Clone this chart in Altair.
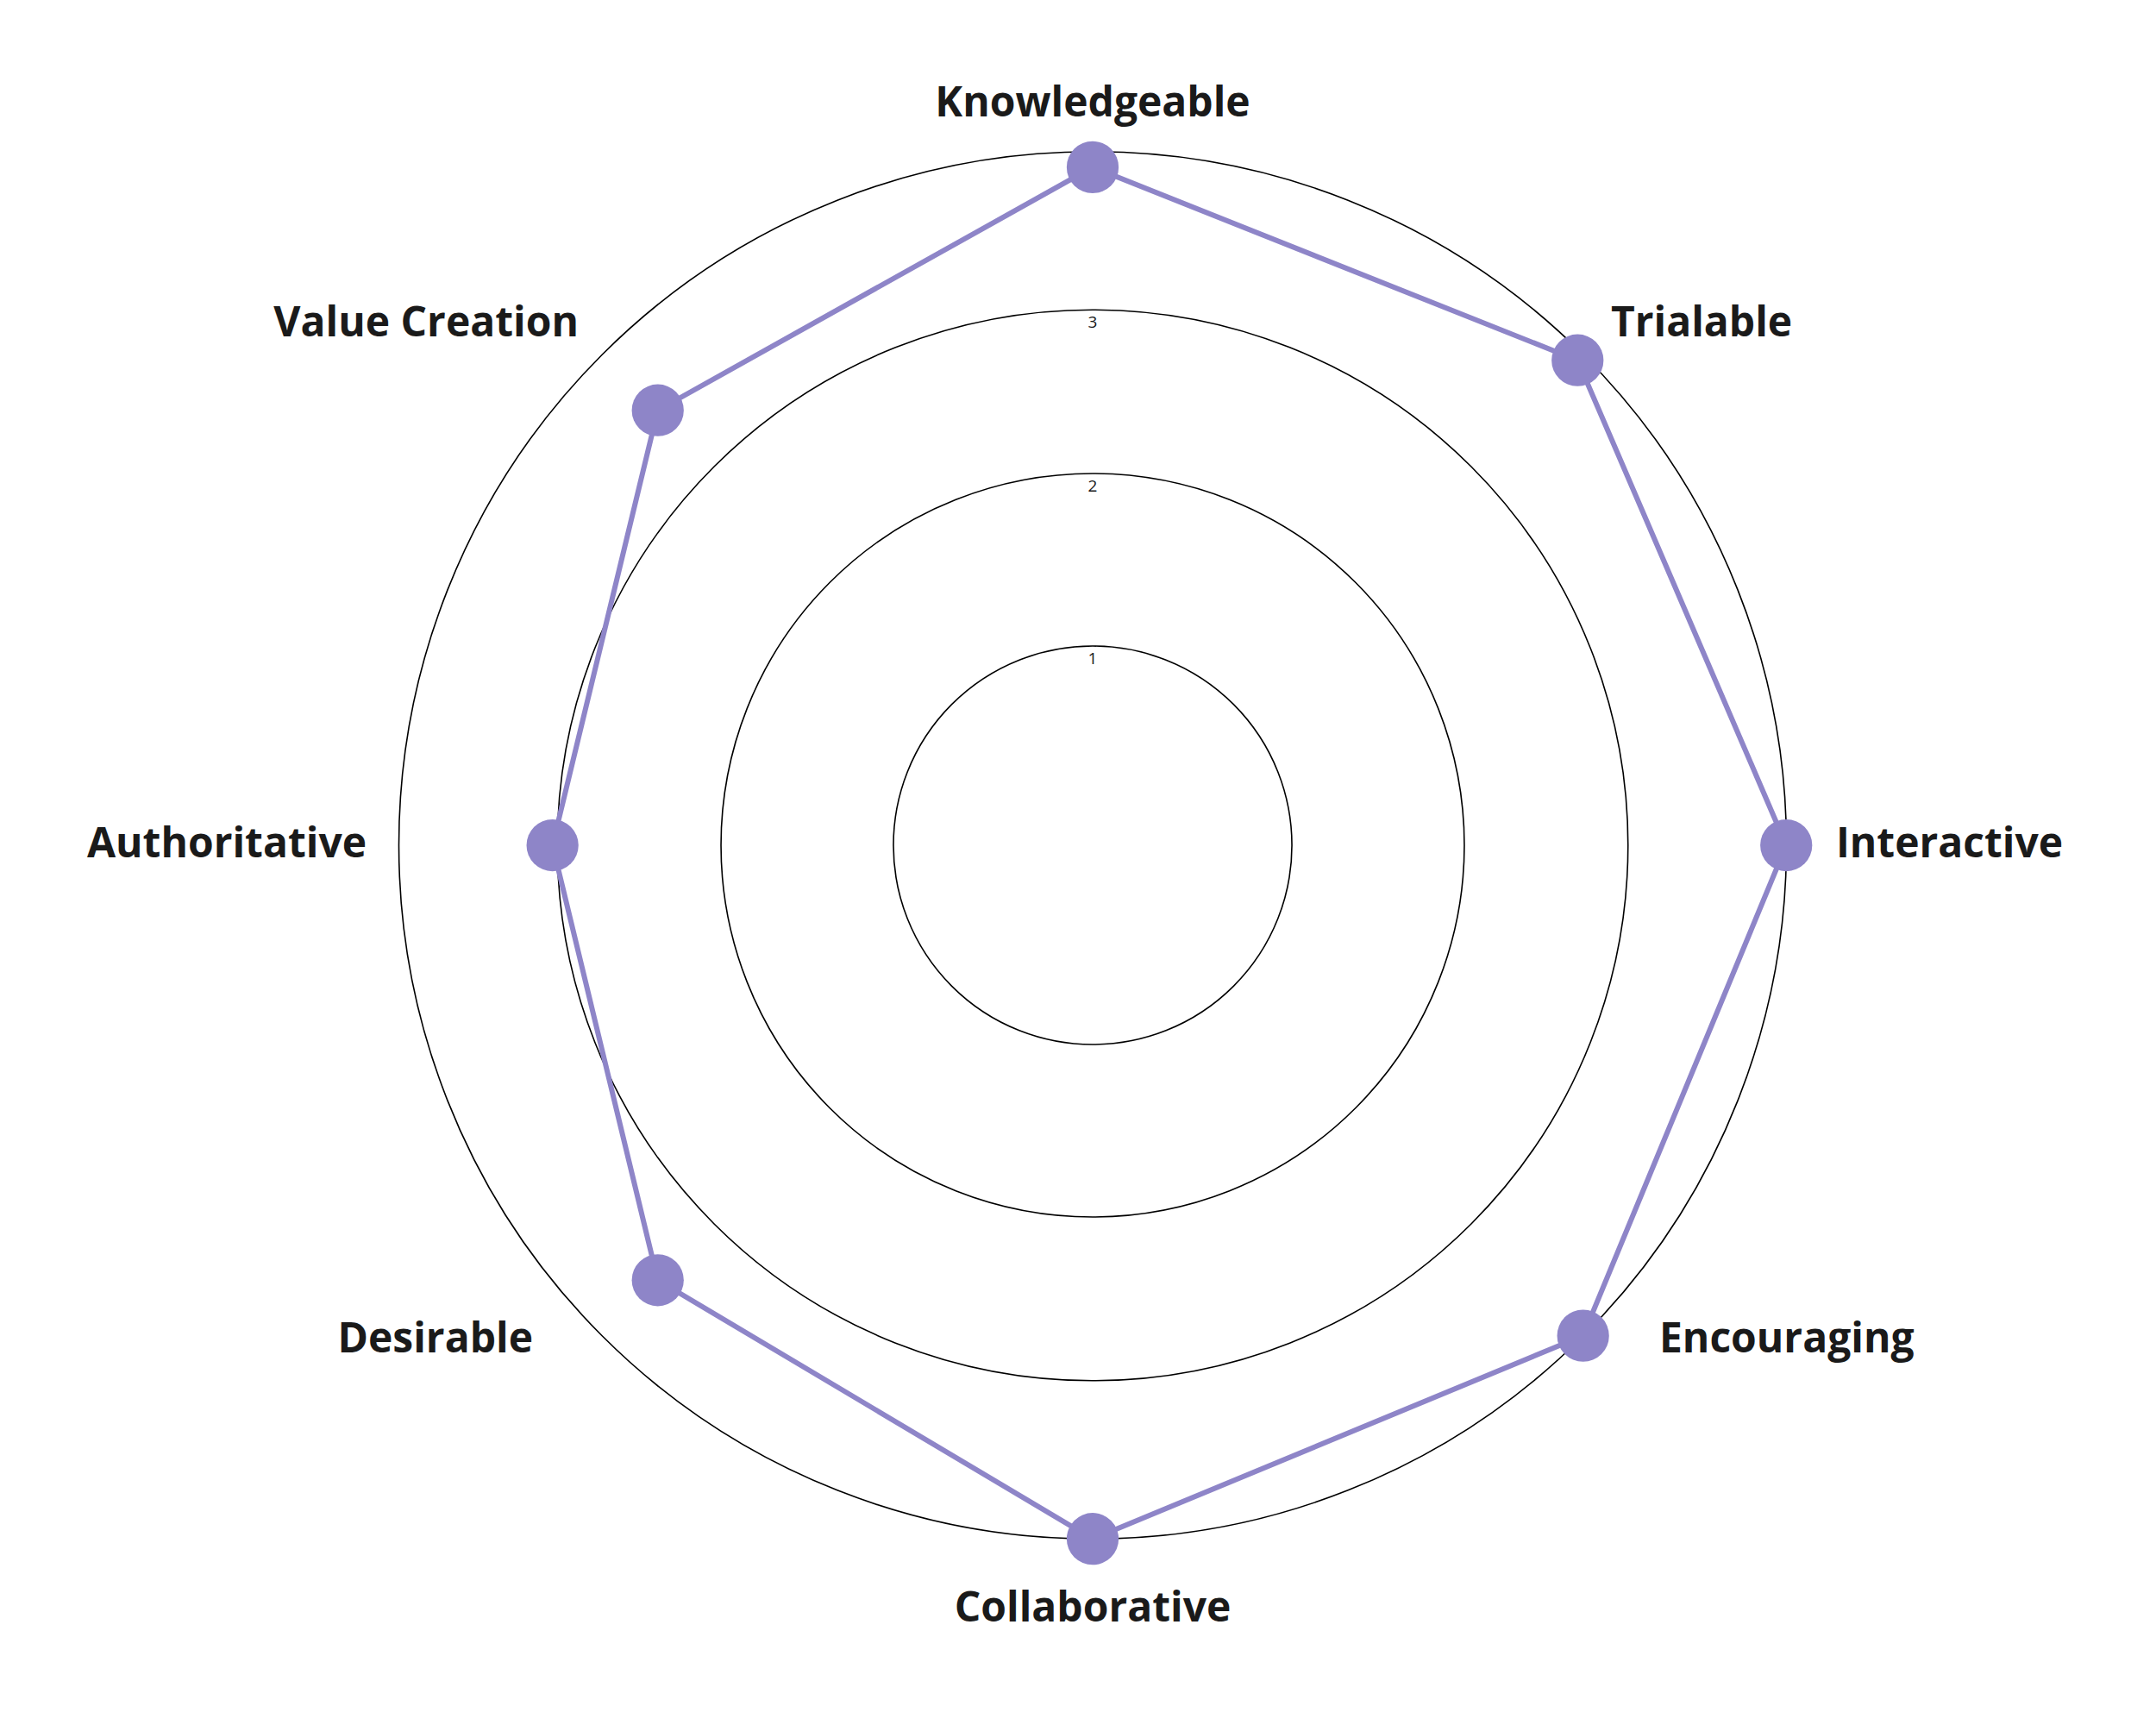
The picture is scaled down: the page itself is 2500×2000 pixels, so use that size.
import math
import altair as alt
import pandas as pd

# ---- data ----
categories = ["Knowledgeable", "Trialable", "Interactive", "Encouraging",
              "Collaborative", "Desirable", "Authoritative", "Value Creation"]
values = [3.9, 3.95, 4.0, 4.0, 4.0, 3.5, 3.03, 3.5]
ring_values = [1, 2, 3, 4]
ring_labels = ["1", "2", "3", ""]
label_groups = ["top", "topright", "right", "lowright", "bottom", "lowleft", "left", "topleft"]

# ---- styling / geometry ----
PURPLE = "#8e85c8"
INK = "#1a1a1a"
EXP = 0.9          # radial scale exponent
L = 4.2            # half-extent of the x/y domain (in scaled radial units)
W = 1940           # plot area size (square)
C = W / 2
LABEL_R = 3.68     # label radius (scaled radial units)

pts = pd.DataFrame({"category": categories, "value": values,
                    "idx": list(range(len(categories))), "grp": label_groups})
rings = pd.DataFrame({"ring": ring_values, "label": ring_labels})

xs = alt.Scale(domain=[-L, L], range=[0, W], nice=False, zero=False)
ys = alt.Scale(domain=[-L, L], range=[W, 0], nice=False, zero=False)

base = alt.Chart(pts).transform_calculate(
    ang=f"datum.idx * 2 * PI / {len(categories)}",
    rr=f"pow(datum.value, {EXP})",
    px="datum.rr * sin(datum.ang)",
    py="datum.rr * cos(datum.ang)",
    lx=f"{LABEL_R} * sin(datum.ang)",
    ly=f"{LABEL_R} * cos(datum.ang)",
)

ring_layer = alt.Chart(rings).transform_calculate(
    rr=f"pow(datum.ring, {EXP})"
).mark_arc(
    theta=0, theta2=2 * math.pi, fillOpacity=0, stroke="#000000", strokeWidth=1.6
).encode(
    radius=alt.Radius("rr:Q", stack=None,
                      scale=alt.Scale(type="linear", domain=[0, L], range=[0, C], zero=True))
)

ring_text = alt.Chart(rings).transform_filter("datum.label != ''").transform_calculate(
    rr=f"pow(datum.ring, {EXP})", zx="0"
).mark_text(
    dy=15, fontSize=19, font="Open Sans", color=INK, baseline="middle", align="center"
).encode(
    x=alt.X("zx:Q", scale=xs, axis=None),
    y=alt.Y("rr:Q", scale=ys, axis=None),
    text="label:N",
)

line = base.mark_line(
    interpolate="linear-closed", color=PURPLE, strokeWidth=6
).encode(
    x=alt.X("px:Q", scale=xs, axis=None),
    y=alt.Y("py:Q", scale=ys, axis=None),
    order=alt.Order("idx:Q"),
)

points = base.mark_circle(size=3630, color=PURPLE, opacity=1).encode(
    x=alt.X("px:Q", scale=xs, axis=None),
    y=alt.Y("py:Q", scale=ys, axis=None),
)

label_cfg = [
    ("top", "center", "bottom", 0, 15),
    ("bottom", "center", "top", 0, 12),
    ("topright", "left", "middle", 0, -3),
    ("right", "left", "middle", 12, 0),
    ("lowright", "left", "middle", 56, -27),
    ("topleft", "right", "middle", 5, -3),
    ("left", "right", "middle", 8, 0),
    ("lowleft", "right", "middle", -48, -27),
]
label_layers = []
for g, al, bl, dx, dy in label_cfg:
    label_layers.append(
        base.transform_filter(f"datum.grp == '{g}'").mark_text(
            align=al, baseline=bl, dx=dx, dy=dy, font="Open Sans",
            fontWeight="bold", fontSize=48, color=INK
        ).encode(
            x=alt.X("lx:Q", scale=xs, axis=None),
            y=alt.Y("ly:Q", scale=ys, axis=None),
            text="category:N",
        )
    )

chart = alt.layer(ring_layer, ring_text, line, points, *label_layers).properties(
    width=W, height=W, autosize="none",
    padding={"left": 289, "top": 2, "right": 251, "bottom": 2},
    background="white",
).configure_view(strokeWidth=0)

chart.save("out.html", embed_options={"renderer": "svg", "actions": False})
